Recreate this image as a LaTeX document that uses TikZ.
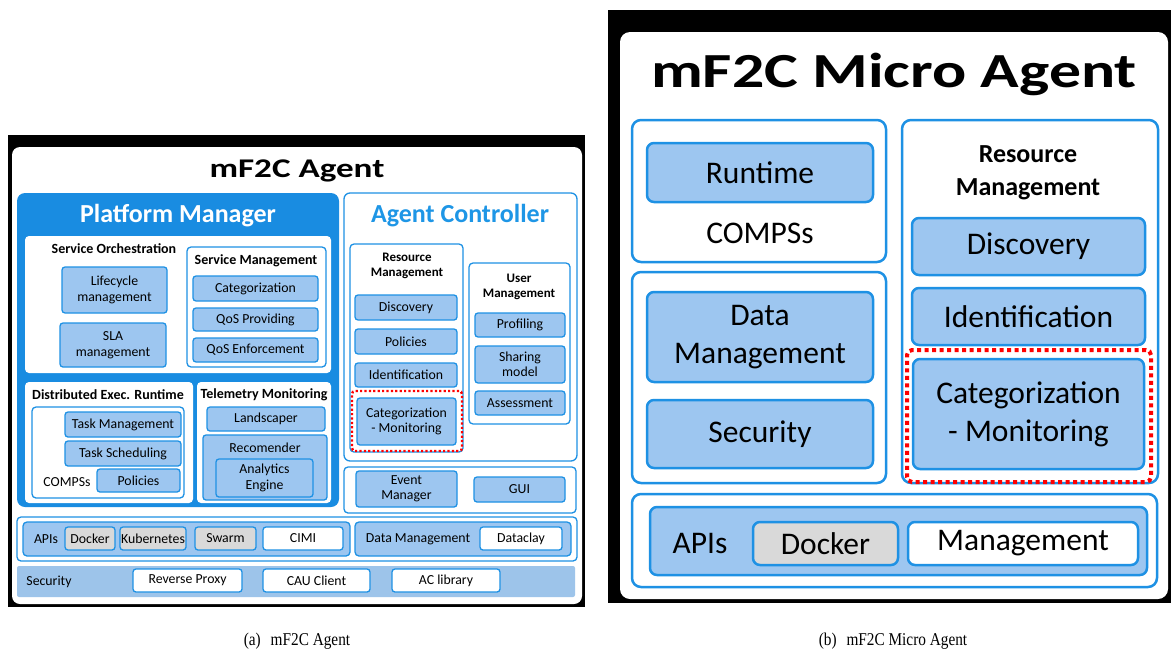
\documentclass[tikz,border=0pt]{standalone}
\usepackage{fontspec}
\setmainfont{Carlito}
\newfontfamily\titlefont[FakeStretch=1.3]{Carlito}
\newfontfamily\capfont[FakeStretch=0.85]{Liberation Serif}
\definecolor{pmblue}{RGB}{25,140,225}
\definecolor{bdblue}{RGB}{30,145,228}
\definecolor{lfill}{RGB}{157,198,240}
\definecolor{secfill}{RGB}{157,196,234}
\definecolor{gfill}{RGB}{217,217,217}
\definecolor{acblue}{RGB}{30,150,230}
\tikzset{
  sbox/.style={draw=bdblue, fill=lfill, line width=1.3pt, rounded corners=3pt, inner sep=0pt, align=center, font=\fontsize{13.8}{15.5}\selectfont},
  swhite/.style={sbox, fill=white},
  sgrey/.style={sbox, fill=gfill},
  sframe/.style={draw=bdblue, fill=white, line width=1.3pt, rounded corners=4pt, inner sep=0pt},
  spanel/.style={draw=bdblue, fill=lfill, line width=1.3pt, rounded corners=4pt, inner sep=0pt},
  region/.style={fill=white, rounded corners=4pt, inner sep=0pt},
  hdr/.style={font=\bfseries\fontsize{14}{16}\selectfont, align=center, inner sep=0pt},
  lbl/.style={font=\fontsize{13.8}{15.5}\selectfont, inner sep=0pt, align=center},
  bbox/.style={draw=bdblue, fill=lfill, line width=2.5pt, rounded corners=7pt, inner sep=0pt, align=center, font=\fontsize{31.5}{38}\selectfont},
  bwhite/.style={bbox, fill=white},
  bgrey/.style={bbox, fill=gfill},
  bframe/.style={draw=bdblue, fill=white, line width=2.5pt, rounded corners=9pt, inner sep=0pt},
  sdots/.style={draw=red, line width=2.4pt, dash pattern=on 2.2pt off 2.2pt, rounded corners=3pt, inner sep=0pt},
  bdots/.style={draw=red, line width=4pt, dash pattern=on 4pt off 3.5pt, rounded corners=5pt, inner sep=0pt},
}
% \mkbox{style}{name}{x1}{y1}{x2}{y2}{text}
\newcommand\mkbox[7]{\node[#1, minimum width={(#5-#3)*1pt}, minimum height={(#6-#4)*1pt}] (#2) at ({(#3+#5)/2},{(#4+#6)/2}) {#7};}
\begin{document}
\begin{tikzpicture}[x=1pt,y=-1pt]
\useasboundingbox (0,0) rectangle (1171,656);
% ================= (a) mF2C Agent =================
\mkbox{fill=black, inner sep=0pt}{aframe}{8}{135}{585}{607}{}
\mkbox{fill=white, rounded corners=8pt, inner sep=0pt}{apage}{12}{147}{582}{604}{}
\node[font=\titlefont\bfseries\fontsize{27}{30}\selectfont, inner sep=0pt] (atitle) at (297,171) {mF2C Agent};
% Platform Manager
\mkbox{fill=pmblue, rounded corners=8pt, inner sep=0pt}{pm}{17}{193}{339}{507}{}
\node[font=\bfseries\fontsize{26}{28}\selectfont, text=white, inner sep=0pt] (pmtitle) at (178,216) {Platform Manager};
\mkbox{region}{pmtop}{25}{236}{331}{373}{}
\node[hdr] (sotitle) at (114,249) {Service Orchestration};
\mkbox{sbox}{lifecycle}{62}{267}{167}{313}{Lifecycle\\management}
\mkbox{sbox}{sla}{60}{323}{166}{367}{SLA\\management}
\mkbox{sframe}{smframe}{187}{247}{326}{367}{}
\node[hdr] (smtitle) at (256,261) {Service Management};
\mkbox{sbox}{categ}{193}{276}{318}{301}{Categorization}
\mkbox{sbox}{qosp}{193}{308}{318}{331}{QoS Providing}
\mkbox{sbox}{qose}{193}{338}{318}{362}{QoS Enforcement}
% Distributed Exec Runtime
\mkbox{region}{derreg}{25}{382}{193}{503}{}
\node[hdr] (dertitle) at (108,395) {Distributed Exec. Runtime};
\mkbox{sframe}{derframe}{32}{407}{184}{498}{}
\mkbox{sbox}{taskm}{65}{412}{181}{437}{Task Management}
\mkbox{sbox}{tasks}{65}{441}{181}{466}{Task Scheduling}
\mkbox{sbox}{policiesa}{97}{469}{180}{492}{Policies}
\node[lbl] (compssa) at (67,482) {COMPSs};
% Telemetry Monitoring
\mkbox{region}{telreg}{197}{382}{331}{503}{}
\node[hdr] (teltitle) at (264,395) {Telemetry Monitoring};
\mkbox{sbox}{landsc}{207}{407}{325}{431}{Landscaper}
\mkbox{sbox}{recom}{203}{435}{327}{500}{}
\node[lbl] (recomlbl) at (265,448) {Recomender};
\mkbox{sbox}{analyt}{216}{459}{313}{497}{Analytics\\Engine}
% Agent Controller
\mkbox{sframe, rounded corners=6pt}{ac}{344}{193}{577}{461}{}
\node[font=\bfseries\fontsize{26}{28}\selectfont, text=acblue, inner sep=0pt] (actitle) at (460,216) {Agent Controller};
\mkbox{sframe}{rmframe}{350}{244}{463}{452}{}
\node[hdr, font=\bfseries\fontsize{13}{15.5}\selectfont] (rmtitle) at (407,266) {Resource\\Management};
\mkbox{sbox}{disca}{355}{295}{457}{320}{Discovery}
\mkbox{sbox}{polb}{355}{329}{457}{354}{Policies}
\mkbox{sbox}{identa}{355}{363}{457}{387}{Identification}
\mkbox{sdots}{reda}{352}{391}{462}{451}{}
\mkbox{sbox}{catmona}{357}{398}{456}{445}{Categorization\\- Monitoring}
\mkbox{sframe}{umframe}{469}{263}{570}{424}{}
\node[hdr, font=\bfseries\fontsize{13}{15.5}\selectfont] (umtitle) at (519,287) {User\\Management};
\mkbox{sbox}{profil}{475}{313}{565}{337}{Profiling}
\mkbox{sbox}{sharing}{475}{346}{565}{383}{Sharing\\model}
\mkbox{sbox}{assess}{475}{391}{565}{415}{Assessment}
\mkbox{sframe}{evrow}{344}{467}{576}{513}{}
\mkbox{sbox}{evman}{356}{471}{457}{507}{Event\\Manager}
\mkbox{sbox}{gui}{474}{477}{565}{502}{GUI}
% APIs row
\mkbox{sframe}{apirow}{17}{517}{577}{561}{}
\mkbox{spanel}{apipanel}{23}{522}{350}{556}{}
\node[lbl] (apislbl) at (46,539) {APIs};
\mkbox{sgrey}{dockera}{65}{527}{115}{550}{Docker}
\mkbox{sgrey}{kube}{120}{527}{186}{550}{Kubernetes}
\mkbox{sgrey}{swarm}{195}{527}{256}{550}{Swarm}
\mkbox{swhite}{cimi}{263}{527}{343}{550}{CIMI}
\mkbox{spanel}{dmpanel}{355}{522}{571}{556}{}
\node[lbl] (dmlbl) at (418,539) {Data Management};
\mkbox{swhite}{dataclay}{480}{527}{562}{550}{Dataclay}
% Security row
\mkbox{fill=secfill, rounded corners=2pt, inner sep=0pt}{secrow}{17}{566}{575}{597}{}
\node[lbl] (seclbl) at (49,582) {Security};
\mkbox{swhite}{rproxy}{133}{569}{242}{592}{Reverse Proxy}
\mkbox{swhite}{cau}{263}{569}{370}{592}{CAU Client}
\mkbox{swhite}{aclib}{392}{569}{500}{592}{AC library}

% ================= (b) mF2C Micro Agent =================
\mkbox{fill=black, inner sep=0pt}{bframeblk}{608}{10}{1171}{603}{}
\mkbox{fill=white, rounded corners=10pt, inner sep=0pt}{bpage}{620}{32}{1168}{599}{}
\node[font=\titlefont\bfseries\fontsize{49}{54}\selectfont, inner sep=0pt] (btitle) at (894,74) {mF2C Micro Agent};
\mkbox{bframe}{rtframe}{632}{120}{886}{262}{}
\mkbox{bbox}{runtime}{647}{143}{873}{202}{Runtime}
\node[inner sep=0pt, font=\fontsize{31.5}{38}\selectfont] (compssb) at (760,233) {COMPSs};
\mkbox{bframe}{dsframe}{632}{272}{886}{483}{}
\mkbox{bbox}{datam}{647}{292}{873}{382}{Data\\Management}
\mkbox{bbox}{secb}{647}{400}{873}{468}{Security}
\mkbox{bframe}{rmbframe}{902}{120}{1158}{483}{}
\node[inner sep=0pt, align=center, font=\bfseries\fontsize{26}{33}\selectfont] (rmbtitle) at (1028,173) {Resource\\Management};
\mkbox{bbox}{discb}{912}{218}{1145}{275}{Discovery}
\mkbox{bbox}{identb}{912}{288}{1145}{345}{Identification}
\mkbox{bdots}{redb}{907}{350}{1151}{482}{}
\mkbox{bbox}{catmonb}{913}{359}{1144}{469}{Categorization\\- Monitoring}
\mkbox{bframe}{apibframe}{632}{494}{1157}{587}{}
\mkbox{bbox}{apibpanel}{650}{507}{1147}{575}{}
\node[inner sep=0pt, font=\fontsize{31.5}{38}\selectfont] (apisb) at (700,544) {APIs};
\mkbox{bgrey}{dockerb}{753}{522}{898}{565}{Docker}
\mkbox{bwhite}{mgmtb}{908}{522}{1138}{565}{Management}

% ================= captions =================
\node[font=\capfont\fontsize{18}{20}\selectfont, inner sep=0pt] (capa) at (297,641) {(a)\hspace{0.55em}mF2C Agent};
\node[font=\capfont\fontsize{18}{20}\selectfont, inner sep=0pt] (capb) at (893,641) {(b)\hspace{0.55em}mF2C Micro Agent};
\end{tikzpicture}
\end{document}
